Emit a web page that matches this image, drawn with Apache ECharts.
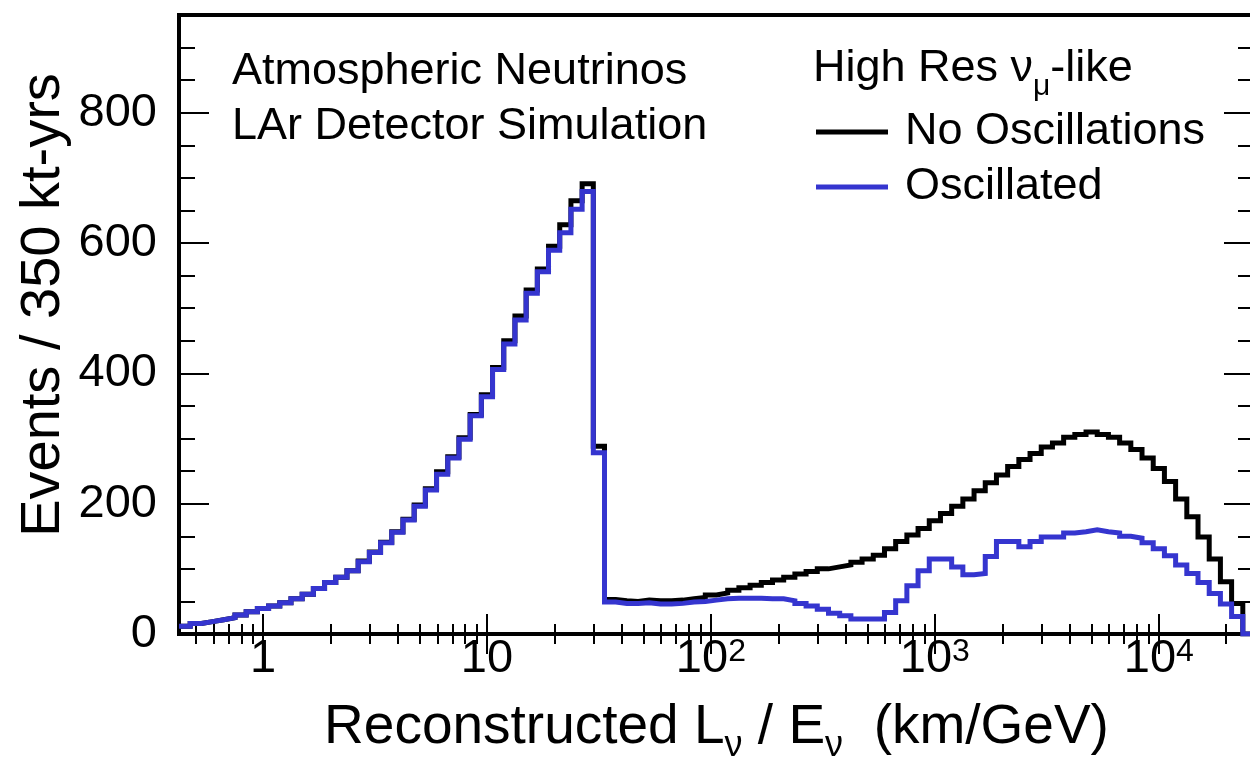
<!DOCTYPE html>
<html>
<head>
<meta charset="utf-8">
<script src="https://cdn.jsdelivr.net/npm/echarts@6/dist/echarts.min.js"></script>
<style>
  html, body { margin: 0; padding: 0; background: #ffffff; }
  #chart { width: 1250px; height: 763px; }
</style>
</head>
<body>
<div id="chart"></div>
<script>
// Binning of reconstructed L/E: equal widths in log10, 20 bins per decade,
// first lower edge at log10(L/E) = -0.375.
const LOG_FIRST_EDGE = -0.375;
const BINS_PER_DECADE = 20;

// Events per bin (350 kt-yrs), no oscillations
const noOscillations = [
  12, 16, 19, 22, 25, 29, 34, 39, 43, 48,
  54, 61, 70, 79, 87, 97, 112, 126, 141, 157,
  176, 198, 223, 249, 272, 301, 337, 367, 409, 450,
  488, 528, 560, 595, 628, 665, 691, 288, 53, 51,
  50, 52, 51, 51, 52, 54, 56, 60, 63, 67,
  71, 75, 79, 83, 87, 92, 96, 100, 103, 106,
  110, 115, 121, 131, 142, 152, 162, 174, 185, 196,
  207, 220, 232, 244, 257, 268, 277, 287, 293, 302,
  306, 310, 306, 302, 293, 283, 270, 254, 234, 207,
  180, 149, 115, 80, 47, 0
];

// Events per bin (350 kt-yrs), with oscillations
const oscillated = [
  12, 16, 19, 22, 25, 29, 34, 39, 43, 48,
  54, 61, 70, 79, 87, 97, 111, 125, 140, 156,
  175, 196, 221, 245, 270, 299, 335, 364, 406, 445,
  482, 523, 556, 589, 616, 652, 679, 278, 49, 47,
  47, 48, 46, 46, 47, 49, 50, 52, 54, 55,
  55, 55, 54, 54, 51, 47, 43, 38, 32, 28,
  23, 23, 23, 33, 51, 74, 97, 115, 115, 103,
  91, 93, 119, 142, 142, 134, 142, 149, 149, 155,
  157, 160, 157, 155, 150, 147, 140, 131, 120, 106,
  93, 79, 62, 46, 27, 0
];

// Axis ticks
const xMajorTicks = [1, 10, 100, 1000, 10000];
const xMinorTicks = [
  0.5, 0.6, 0.7, 0.8, 0.9,
  2, 3, 4, 5, 6, 7, 8, 9,
  20, 30, 40, 50, 60, 70, 80, 90,
  200, 300, 400, 500, 600, 700, 800, 900,
  2000, 3000, 4000, 5000, 6000, 7000, 8000, 9000,
  20000
];
const yMajorTicks = [0, 200, 400, 600, 800];
const yMinorTicks = [50, 100, 150, 250, 300, 350, 450, 500, 550, 650, 700, 750, 850, 900];
const Y_MAX = 950;

const X_MIN = Math.pow(10, LOG_FIRST_EDGE);
const X_MAX = Math.pow(10, LOG_FIRST_EDGE + noOscillations.length / BINS_PER_DECADE);

const FONT = '"Liberation Sans", Arial, Helvetica, sans-serif';
const BLUE = '#3535cf';

// Histogram outline: each bin contributes its two edges at the bin height
function stepPoints(values) {
  const pts = [];
  values.forEach((v, k) => {
    const lo = Math.pow(10, LOG_FIRST_EDGE + k / BINS_PER_DECADE);
    const hi = Math.pow(10, LOG_FIRST_EDGE + (k + 1) / BINS_PER_DECADE);
    pts.push([lo, v], [hi, v]);
  });
  return pts;
}

function decadeLabel(v) {
  const p = Math.round(Math.log10(v));
  if (p === 0) return '{b|1}';
  if (p === 1) return '{b|10}';
  return '{b|10}{sup|' + p + '}';
}

const tickLine = { color: '#000', width: 2 };

function xAxisDef(position, ticks, len, withLabels) {
  const ax = {
    type: 'log', logBase: 10, min: X_MIN, max: X_MAX, position: position,
    axisLine: { show: false }, splitLine: { show: false },
    axisTick: { show: true, inside: true, length: len, lineStyle: tickLine, customValues: ticks },
    axisLabel: { show: false }
  };
  if (withLabels) {
    ax.axisLabel = {
      show: true, customValues: xMajorTicks, margin: 2, color: '#000',
      formatter: decadeLabel,
      rich: {
        b: { fontFamily: FONT, fontSize: 47, lineHeight: 56, color: '#000', verticalAlign: 'top' },
        sup: { fontFamily: FONT, fontSize: 32, lineHeight: 32, color: '#000', verticalAlign: 'top' }
      }
    };
    ax.name = '{t|Reconstructed L}{s|ν}{t| / E}{s|ν}{t|  (km/GeV)}';
    ax.nameLocation = 'middle';
    ax.nameGap = 66;
    ax.nameTextStyle = {
      color: '#000',
      rich: {
        t: { fontFamily: FONT, fontSize: 55, lineHeight: 62, color: '#000', verticalAlign: 'top' },
        s: { fontFamily: FONT, fontSize: 36, lineHeight: 36, color: '#000', verticalAlign: 'top', padding: [28, 0, 0, 0] }
      }
    };
  }
  return ax;
}

function yAxisDef(position, ticks, len, withLabels) {
  const ax = {
    type: 'value', min: 0, max: Y_MAX, position: position,
    axisLine: { show: false }, splitLine: { show: false },
    axisTick: { show: true, inside: true, length: len, lineStyle: tickLine, customValues: ticks },
    axisLabel: { show: false }
  };
  if (withLabels) {
    ax.axisLabel = {
      show: true, customValues: yMajorTicks, margin: 22,
      fontFamily: FONT, fontSize: 47, color: '#000'
    };
  }
  return ax;
}

const chart = echarts.init(document.getElementById('chart'), null, { renderer: 'canvas' });

chart.setOption({
  animation: false,
  backgroundColor: '#ffffff',
  grid: {
    left: 179, right: -4, top: 15, bottom: 129,
    containLabel: false, outerBoundsMode: 'none',
    show: true, borderColor: '#000', borderWidth: 4, backgroundColor: 'transparent'
  },
  xAxis: [
    xAxisDef('bottom', xMajorTicks, 20, true),
    xAxisDef('bottom', xMinorTicks, 10, false),
    xAxisDef('top', xMajorTicks, 20, false),
    xAxisDef('top', xMinorTicks, 10, false)
  ],
  yAxis: [
    yAxisDef('left', yMajorTicks, 30, true),
    yAxisDef('left', yMinorTicks, 16, false),
    yAxisDef('right', yMajorTicks, 30, false),
    yAxisDef('right', yMinorTicks, 16, false)
  ],
  legend: {
    orient: 'vertical', left: 811, top: 102,
    itemWidth: 72, itemHeight: 5, itemGap: 5, icon: 'rect',
    data: ['No Oscillations', 'Oscillated'],
    textStyle: { fontFamily: FONT, fontSize: 45, lineHeight: 50, color: '#000', padding: [0, 0, 0, 12] }
  },
  graphic: [
    { type: 'text', x: 44, y: 305, rotation: Math.PI / 2,
      style: { text: 'Events / 350 kt-yrs', fontFamily: FONT, fontSize: 56, fill: '#000', align: 'center', verticalAlign: 'middle' } },
    { type: 'text', x: 232, y: 72,
      style: { text: 'Atmospheric Neutrinos', fontFamily: FONT, fontSize: 45, fill: '#000', align: 'left', verticalAlign: 'middle' } },
    { type: 'text', x: 232, y: 127,
      style: { text: 'LAr Detector Simulation', fontFamily: FONT, fontSize: 45, fill: '#000', align: 'left', verticalAlign: 'middle' } },
    { type: 'text', x: 813, y: 72,
      style: {
        text: '{t|High Res ν}{s|μ}{t|-like}', align: 'left', verticalAlign: 'middle',
        rich: {
          t: { fontFamily: FONT, fontSize: 45, lineHeight: 52, fill: '#000', verticalAlign: 'top' },
          s: { fontFamily: FONT, fontSize: 30, lineHeight: 30, fill: '#000', verticalAlign: 'top', padding: [26, 0, 0, 0] }
        }
      } }
  ],
  series: [
    {
      name: 'No Oscillations', type: 'line', xAxisIndex: 0, yAxisIndex: 0,
      data: stepPoints(noOscillations), showSymbol: false, symbol: 'none',
      color: '#000', lineStyle: { color: '#000', width: 5, join: 'miter', cap: 'butt' },
      itemStyle: { color: '#000' }, z: 3
    },
    {
      name: 'Oscillated', type: 'line', xAxisIndex: 0, yAxisIndex: 0,
      data: stepPoints(oscillated), showSymbol: false, symbol: 'none',
      color: BLUE, lineStyle: { color: BLUE, width: 5, join: 'miter', cap: 'butt' },
      itemStyle: { color: BLUE }, z: 4
    }
  ]
});
</script>
</body>
</html>
